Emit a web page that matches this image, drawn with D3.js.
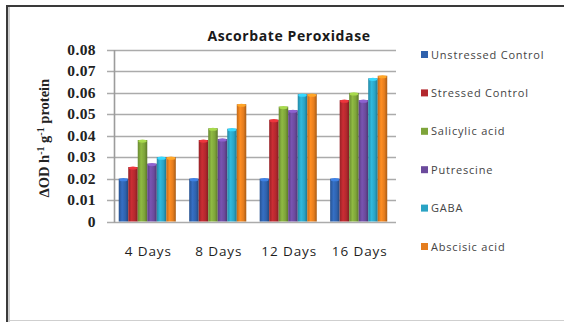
<!DOCTYPE html>
<html><head><meta charset="utf-8">
<script src="https://cdn.jsdelivr.net/npm/d3@7"></script>
<style>html,body{margin:0;padding:0;background:#fff;}</style>
</head><body>
<svg id="c" width="564" height="322"></svg>
<script>
const categories = ["4 Days", "8 Days", "12 Days", "16 Days"];
const seriesNames = ["Unstressed Control", "Stressed Control", "Salicylic acid", "Putrescine", "GABA", "Abscisic acid"];
const unstressed = [0.020, 0.020, 0.020, 0.020];
const stressed   = [0.0254, 0.038, 0.0475, 0.0566];
const salicylic  = [0.038, 0.0435, 0.0536, 0.060];
const putrescine = [0.027, 0.0385, 0.0519, 0.0566];
const gaba       = [0.030, 0.0433, 0.0594, 0.0668];
const abscisic   = [0.030, 0.0547, 0.0594, 0.068];
const yTicks = [0, 0.01, 0.02, 0.03, 0.04, 0.05, 0.06, 0.07, 0.08];
const colors = ["#2f62ad", "#b3282e", "#7ea43a", "#6b4a9c", "#2aa3c4", "#e57d1e"];

const seriesValues = [unstressed, stressed, salicylic, putrescine, gaba, abscisic];
const svg = d3.select("#c");

// frame
svg.append("line").attr("x1",6).attr("x2",564).attr("y1",6).attr("y2",6).attr("stroke","#3a3a3a").attr("stroke-width",2);
svg.append("line").attr("x1",7).attr("x2",7).attr("y1",5).attr("y2",322).attr("stroke","#3a3a3a").attr("stroke-width",2);
svg.append("line").attr("x1",9).attr("x2",9).attr("y1",7).attr("y2",322).attr("stroke","#9a9a9a").attr("stroke-width",1);
svg.append("line").attr("x1",8).attr("x2",564).attr("y1",320.5).attr("y2",320.5).attr("stroke","#cfcfcf").attr("stroke-width",1);

const y = d3.scaleLinear().domain([0, 0.08]).range([221.5, 50]);
const x0 = d3.scaleBand().domain(categories).range([114, 396]).paddingInner(0.19).paddingOuter(0.0957).align(0.35);
const x1 = d3.scaleBand().domain(seriesNames).range([0, x0.bandwidth()]).padding(0);

// gradients
const defs = svg.append("defs");
colors.forEach((c, i) => {
  const g = defs.append("linearGradient").attr("id", "g" + i).attr("x1", "0").attr("x2", "1").attr("y1", "0").attr("y2", "0");
  const base = d3.color(c);
  g.append("stop").attr("offset", "0%").attr("stop-color", base.darker(0.5));
  g.append("stop").attr("offset", "35%").attr("stop-color", base.brighter(0.35));
  g.append("stop").attr("offset", "70%").attr("stop-color", base);
  g.append("stop").attr("offset", "100%").attr("stop-color", base.darker(0.9));
});

// gridlines
svg.append("g").selectAll("line").data(yTicks).join("line")
  .attr("x1", 107).attr("x2", 396)
  .attr("y1", d => Math.round(y(d)) + 0.5).attr("y2", d => Math.round(y(d)) + 0.5)
  .attr("stroke", "#ababab").attr("stroke-width", 1.6);

// y axis line
svg.append("line").attr("x1", 114.5).attr("x2", 114.5).attr("y1", y(0.08)).attr("y2", y(0) + 1)
  .attr("stroke", "#9c9c9c").attr("stroke-width", 1.6);

// y tick labels
svg.append("g").selectAll("text").data(yTicks).join("text")
  .attr("x", 96).attr("y", d => y(d) + 5)
  .attr("text-anchor", "end")
  .attr("font-family", "Liberation Serif, serif").attr("font-weight", "bold").attr("font-size", 15.5)
  .attr("letter-spacing", 0.4)
  .attr("fill", "#222")
  .text(d => d === 0 ? "0" : d3.format(".2f")(d));

// bars
const groups = svg.append("g").selectAll("g").data(categories).join("g")
  .attr("transform", c => `translate(${x0(c)},0)`);
groups.selectAll("rect").data((c, ci) => seriesNames.map((s, si) => ({ s, si, v: seriesValues[si][ci] })))
  .join("rect")
  .attr("x", d => x1(d.s)).attr("width", x1.bandwidth())
  .attr("y", d => y(d.v)).attr("height", d => y(0) - y(d.v))
  .attr("fill", d => `url(#g${d.si})`);
groups.selectAll("ellipse").data((c, ci) => seriesNames.map((s, si) => ({ s, si, v: seriesValues[si][ci] })))
  .join("ellipse")
  .attr("cx", d => x1(d.s) + x1.bandwidth() / 2).attr("cy", d => y(d.v) + 1)
  .attr("rx", x1.bandwidth() / 2 - 0.5).attr("ry", 1.6)
  .attr("fill", d => d3.color(colors[d.si]).brighter(0.8));

// x labels
svg.append("g").selectAll("text").data(categories).join("text")
  .attr("x", c => x0(c) + x0.bandwidth() / 2 + 1).attr("y", 256)
  .attr("text-anchor", "middle")
  .attr("font-family", "Open Sans, sans-serif").attr("font-size", 13.5)
  .attr("letter-spacing", 0.9)
  .attr("fill", "#1e1e1e")
  .text(c => c);

// title
svg.append("text").attr("x", 289).attr("y", 41).attr("text-anchor", "middle")
  .attr("font-family", "Open Sans, sans-serif").attr("font-weight", "bold").attr("font-size", 14)
  .attr("letter-spacing", 0.6)
  .attr("fill", "#1a1a1a").text("Ascorbate Peroxidase");

// y axis title
const yt = svg.append("text").attr("transform", "translate(49,138) rotate(-90)")
  .attr("text-anchor", "middle")
  .attr("font-family", "Liberation Serif, serif").attr("font-weight", "bold").attr("font-size", 14.5)
  .attr("fill", "#222");
yt.append("tspan").text("\u2206OD h");
yt.append("tspan").attr("baseline-shift", "super").attr("font-size", 10).text("-1");
yt.append("tspan").text(" g");
yt.append("tspan").attr("baseline-shift", "super").attr("font-size", 10).text("-1");
yt.append("tspan").text(" protein");

// legend
const leg = svg.append("g").selectAll("g").data(seriesNames).join("g")
  .attr("transform", (d, i) => `translate(421,${55 + i * 38.4})`);
leg.append("rect").attr("x", 0).attr("y", -4).attr("width", 7).attr("height", 7)
  .attr("fill", (d, i) => colors[i]);
leg.append("text").attr("x", 10).attr("y", 3.5)
  .attr("font-family", "Open Sans, sans-serif").attr("font-size", 11)
  .attr("letter-spacing", 0.8)
  .attr("fill", "#444").text(d => d);
</script>
</body></html>
